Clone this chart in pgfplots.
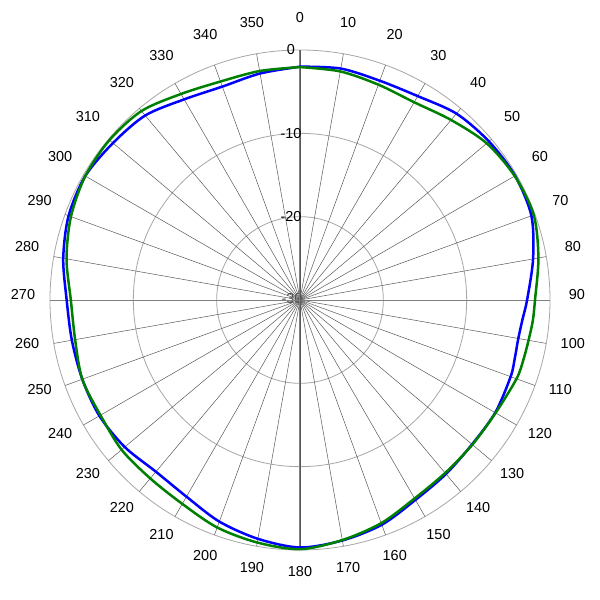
\documentclass[border=0pt]{standalone}
\usepackage{fontspec}
\setmainfont{Liberation Sans}
\usepackage{pgfplots}
\usepackage{pgfplotstable}
\pgfplotsset{compat=1.18}

% angle (deg, clockwise from top), level in dB
\pgfplotstableread{
ang  blue   green
0    -2.00  -2.05
10   -1.80  -2.15
20   -2.00  -2.50
30   -1.75  -2.60
40   -0.80  -1.80
50   -0.40  -0.75
60   -0.20  -0.25
70   -0.45  -0.15
80   -1.60  -0.95
90   -2.75  -1.80
95   -3.20  -1.95
100  -3.40  -2.15
105  -3.30  -2.25
110  -3.10  -2.35
120  -2.95  -2.90
130  -3.05  -3.00
140  -2.75  -2.90
150  -2.30  -2.50
160  -1.30  -1.50
170  -0.70  -0.75
180  -0.30  -0.10
190  -0.90  -0.45
200  -1.70  -0.95
210  -2.75  -1.75
220  -3.10  -2.05
230  -2.55  -2.05
240  -2.20  -2.35
250  -2.20  -2.20
260  -2.20  -2.60
270  -2.00  -2.50
280  -1.15  -1.55
290  -0.45  -0.75
300  -0.25  -0.25
310  -0.70  -0.15
320  -1.10  -0.40
330  -2.20  -1.45
340  -2.75  -2.10
350  -2.40  -2.10
360  -2.00  -2.05
}\radtable

\begin{document}
\begin{tikzpicture}[every node/.style={font=\fontsize{14.5}{17}\selectfont}]
% center of the chart is at the origin, 0 dB ring = 250bp
\node[text=black!70] at (-8bp,1.5bp) {-30};

% grid
\foreach \r in {83.33,166.67,250}
    \draw[gray!70, line width=0.8bp] (0,0) circle[radius=\r bp];
\foreach \a in {0,10,...,350}{
    \draw[black!65, line width=0.5bp] (0,0) -- ({90-\a}:250bp);
    \path (0,5bp) ++({90-\a}:277bp) node {\a};
}
\draw[gray, line width=1bp] (0,250bp) -- (0,-250bp);
\draw[gray, line width=1bp] (-250bp,0) -- (250bp,0);

% radial labels
\node at (-9bp,250bp) {0};
\node at (-9bp,166.67bp) {-10};
\node at (-9bp,83.33bp) {-20};

\begin{axis}[
    at={(0,0)}, anchor=center,
    width=600bp, height=600bp, scale only axis,
    xmin=-36, xmax=36, ymin=-36, ymax=36,
    hide axis, clip=false,
]
\path (axis cs:-36,-36) rectangle (axis cs:36,36);
\addplot[blue, line width=2.5bp, smooth] table[
    x expr={(\thisrow{blue}+30)*sin(\thisrow{ang})},
    y expr={(\thisrow{blue}+30)*cos(\thisrow{ang})}] {\radtable};
\addplot[green!50!black, line width=2.5bp, smooth] table[
    x expr={(\thisrow{green}+30)*sin(\thisrow{ang})},
    y expr={(\thisrow{green}+30)*cos(\thisrow{ang})}] {\radtable};
\end{axis}
\end{tikzpicture}
\end{document}
